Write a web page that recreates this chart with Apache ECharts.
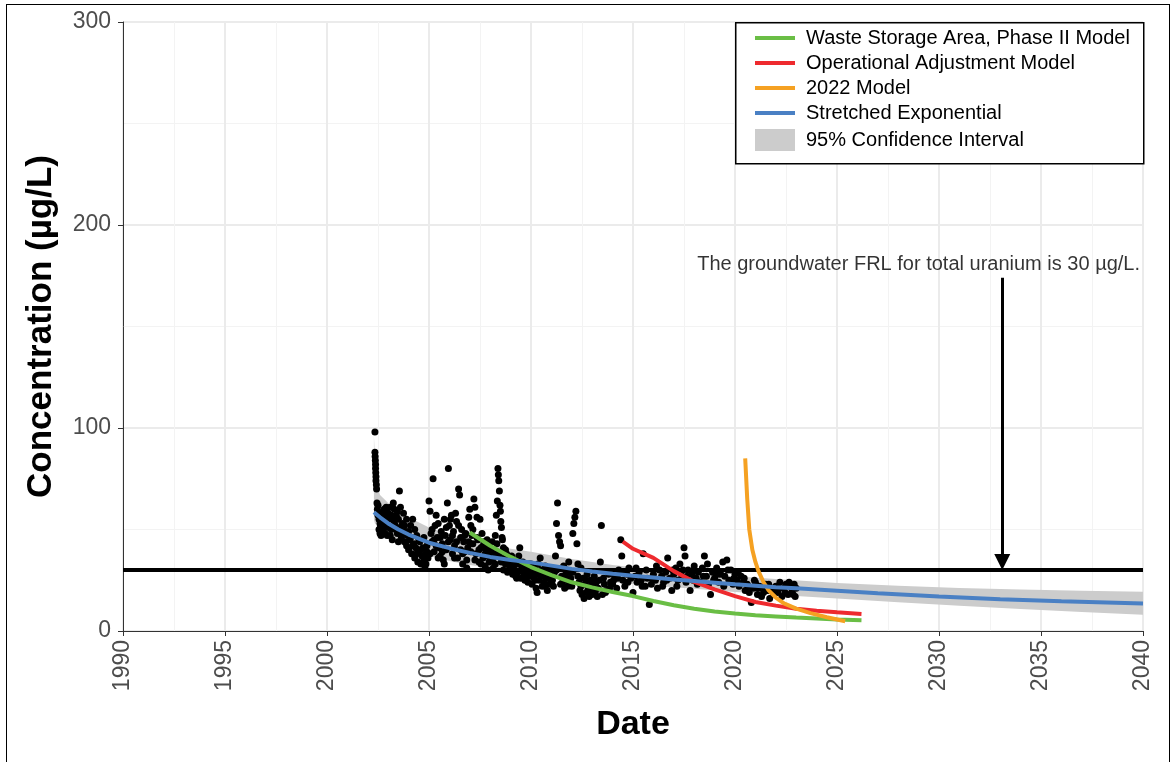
<!DOCTYPE html>
<html>
<head>
<meta charset="utf-8">
<script src="https://cdn.jsdelivr.net/npm/echarts@6/dist/echarts.min.js"></script>
<style>
  html, body { margin: 0; padding: 0; background: #fff; }
  #chart { width: 1172px; height: 762px; }
  #frame { position: absolute; left: 6px; top: 4px; width: 1162px; height: 800px; border: 1.5px solid #000; pointer-events: none; }
</style>
</head>
<body>
<div id="chart"></div>
<div id="frame"></div>
<script>
// measured samples [decimal year, µg/L]
const samples = [
  [2002.35,98],[2002.35,88],[2002.36,86],[2002.37,84],[2002.38,82],[2002.38,80],[2002.39,78],[2002.4,76],[2002.4,74],[2002.42,72],[2002.43,70],
  [2002.45,63],[2002.47,60],[2002.5,62],[2002.5,57],[2002.55,55],[2002.55,50],[2002.6,48],[2002.62,52],[2002.65,47],[2002.7,58],[2002.72,54],
  [2002.75,49],[2002.8,60],[2002.85,56],[2002.9,52],[2002.95,47],
  [2003.0,58],[2003.05,55],[2003.1,61],[2003.15,50],[2003.2,56],[2003.25,63],[2003.3,60],[2003.35,52],[2003.4,57],[2003.45,48],[2003.5,55],
  [2003.55,69],[2003.6,51],[2003.65,46],[2003.7,53],[2003.75,58],[2003.8,44],[2003.85,49],[2003.9,42],[2003.95,47],
  [2004.0,40],[2004.05,45],[2004.1,52],[2004.15,38],[2004.2,55],[2004.25,43],[2004.3,36],[2004.35,41],[2004.4,47],[2004.45,34],[2004.5,39],
  [2004.55,44],[2004.6,33],[2004.65,37],[2004.7,41],[2004.75,35],[2004.8,31],[2004.85,38],[2004.9,42],[2004.95,36],
  [2005.0,64],[2005.05,59],[2005.1,48],[2005.15,44],[2005.2,75],[2005.25,39],[2005.3,52],[2005.35,57],[2005.4,46],[2005.45,53],[2005.5,41],
  [2005.55,37],[2005.6,49],[2005.65,43],[2005.7,35],[2005.75,55],[2005.8,47],[2005.85,40],[2005.9,63],[2005.95,80],
  [2006.0,52],[2006.05,45],[2006.1,57],[2006.15,38],[2006.2,49],[2006.25,42],[2006.3,58],[2006.35,54],[2006.4,36],[2006.45,70],[2006.5,67],
  [2006.55,46],[2006.6,50],[2006.65,33],[2006.7,44],[2006.75,39],[2006.8,48],[2006.85,35],[2006.9,41],[2006.95,56],
  [2007.0,60],[2007.05,52],[2007.1,47],[2007.15,43],[2007.2,65],[2007.25,61],[2007.3,38],[2007.35,56],[2007.4,45],[2007.45,34],[2007.5,55],
  [2007.55,41],[2007.6,48],[2007.65,36],[2007.7,44],[2007.75,32],[2007.8,40],[2007.85,37],[2007.9,30],[2007.95,42],
  [2008.0,39],[2008.05,35],[2008.1,44],[2008.15,31],[2008.2,38],[2008.25,47],[2008.3,57],[2008.35,64],[2008.38,80],[2008.4,77],[2008.42,74],
  [2008.45,69],[2008.48,62],[2008.5,59],[2008.52,54],[2008.55,51],[2008.58,46],[2008.6,45],[2008.65,41],[2008.7,36],[2008.75,33],[2008.8,38],
  [2008.85,29],[2008.9,34],[2008.95,31],
  [2009.0,36],[2009.05,32],[2009.1,28],[2009.15,35],[2009.2,30],[2009.25,27],[2009.3,33],[2009.35,29],[2009.4,37],[2009.45,41],[2009.5,26],
  [2009.55,31],[2009.6,34],[2009.65,28],[2009.7,25],[2009.75,32],[2009.8,29],[2009.85,24],[2009.9,30],[2009.95,27],
  [2010.0,33],[2010.05,23],[2010.1,29],[2010.15,26],[2010.2,31],[2010.25,21],[2010.3,19],[2010.35,28],[2010.4,25],[2010.45,36],[2010.5,30],
  [2010.55,22],[2010.6,27],[2010.65,24],[2010.7,32],[2010.75,29],[2010.8,20],[2010.85,26],[2010.9,23],[2010.95,28],
  [2011.0,31],[2011.05,25],[2011.1,22],[2011.15,29],[2011.2,37],[2011.25,53],[2011.3,63],[2011.35,47],[2011.4,44],[2011.45,42],[2011.5,27],
  [2011.55,24],[2011.6,32],[2011.65,21],[2011.7,28],[2011.75,30],[2011.8,25],[2011.85,34],[2011.9,29],[2011.95,26],
  [2012.0,22],[2012.05,48],[2012.1,53],[2012.15,56],[2012.2,59],[2012.25,43],[2012.3,27],[2012.35,24],[2012.4,20],[2012.45,31],[2012.5,18],
  [2012.55,26],[2012.6,16],[2012.65,23],[2012.7,19],[2012.75,28],[2012.8,21],[2012.85,17],[2012.9,25],[2012.95,20],
  [2013.0,18],[2013.05,22],[2013.1,27],[2013.15,19],[2013.2,24],[2013.3,21],[2013.4,34],[2013.45,52],[2013.5,18],[2013.55,26],[2013.6,23],
  [2013.7,20],[2013.8,28],[2013.9,24],
  [2014.0,23],[2014.1,27],[2014.2,21],[2014.3,30],[2014.4,45],[2014.45,37],[2014.5,25],[2014.6,22],[2014.7,28],[2014.8,31],[2014.9,26],
  [2015.0,19],[2015.1,27],[2015.2,24],[2015.3,29],[2015.4,25],[2015.5,38],[2015.6,22],[2015.7,26],[2015.8,13],[2015.9,23],
  [2016.0,28],[2016.1,25],[2016.2,21],[2016.3,30],[2016.4,27],[2016.5,24],[2016.6,29],[2016.7,36],[2016.8,26],[2016.9,20],
  [2017.0,28],[2017.1,31],[2017.2,25],[2017.3,33],[2017.4,27],[2017.5,41],[2017.55,37],[2017.6,24],[2017.7,30],[2017.8,20],[2017.9,28],
  [2018.0,32],[2018.1,26],[2018.2,29],[2018.3,24],[2018.4,31],[2018.5,37],[2018.6,27],[2018.7,23],[2018.8,18],[2018.9,29],
  [2019.0,26],[2019.1,31],[2019.2,24],[2019.3,28],[2019.4,34],[2019.5,27],[2019.6,35],[2019.7,25],[2019.8,30],[2019.9,23],
  [2020.0,28],[2020.1,25],[2020.2,22],[2020.3,27],[2020.4,24],[2020.5,20],[2020.6,23],[2020.7,19],[2020.8,14],[2020.9,21],
  [2021.0,24],[2021.1,18],[2021.2,22],[2021.3,17],[2021.4,19],[2021.5,23],[2021.6,20],[2021.7,16],[2021.8,21],[2021.9,18],
  [2022.0,22],[2022.1,19],[2022.2,24],[2022.3,17],[2022.4,21],[2022.5,23],[2022.6,18],[2022.7,22],[2022.8,20],[2022.9,23],[2022.95,17],[2023.0,21],
  [2002.55,58],[2002.6,53],[2002.7,50],[2002.75,56],[2002.85,48],[2002.9,61],[2003.0,51],[2003.1,47],[2003.15,57],[2003.2,45],[2003.3,54],
  [2003.4,50],[2003.45,59],[2003.5,44],[2003.6,61],[2003.7,48],[2003.8,52],[2003.9,55],
  [2004.0,49],[2004.1,46],[2004.2,42],[2004.3,50],[2004.4,38],[2004.5,45],[2004.6,40],[2004.7,37],[2004.75,46],[2004.85,33],[2004.9,39],
  [2005.05,38],[2005.15,50],[2005.25,45],[2005.35,42],[2005.45,36],[2005.55,46],[2005.65,39],[2005.75,33],[2005.85,51],[2005.95,44],
  [2006.05,55],[2006.15,47],[2006.25,36],[2006.35,44],[2006.45,52],[2006.55,40],[2006.65,38],[2006.75,47],[2006.85,31],[2006.95,44],
  [2007.05,39],[2007.15,50],[2007.25,35],[2007.35,46],[2007.45,40],[2007.55,33],[2007.65,42],[2007.75,38],[2007.85,45],[2007.95,34],
  [2008.05,40],[2008.15,36],[2008.25,33],[2008.33,43],[2008.45,38],[2008.55,34],[2008.65,30],[2008.75,40],[2008.9,36],
  [2009.05,37],[2009.15,29],[2009.3,26],[2009.45,33],[2009.6,30],[2009.75,27],[2009.9,33],[2010.05,30],[2010.2,25],[2010.35,33],
  [2010.55,28],[2010.7,22],[2010.9,31],[2011.05,27],[2011.25,30],[2011.45,23],[2011.6,27],[2011.8,22],
  [2012.05,29],[2012.3,33],[2012.45,22],[2012.7,25],[2012.9,22],[2013.05,25],[2013.25,17],[2013.35,25],[2013.65,19],[2013.85,21],
  [2014.05,25],[2014.25,26],[2014.55,29],[2014.75,24],
  [2015.15,31],[2015.45,22],[2015.65,30],[2015.95,26],[2016.15,32],[2016.45,22],[2016.65,25],[2016.95,30],[2017.15,22],[2017.45,30],
  [2017.65,27],[2017.95,25],[2018.15,23],[2018.45,27],[2018.65,33],[2018.95,25],
  [2019.15,28],[2019.45,22],[2019.65,30],[2019.95,26],[2020.15,29],[2020.45,26],[2020.65,22],[2020.95,25],[2021.15,21],[2021.45,21],
  [2021.65,23],[2021.95,20],[2022.15,21],[2022.45,19],[2022.65,24],[2022.85,18]
];

// Waste Storage Area, Phase II Model
const wsaYears = [2007, 2008, 2009, 2010, 2011, 2012, 2013, 2014, 2015, 2016, 2017, 2018, 2019, 2020, 2021, 2022, 2023, 2024, 2025, 2026.2];
const wsaConc  = [48.5, 42, 36.5, 31.5, 27.5, 24, 21.5, 19.2, 17.2, 14.8, 12.7, 11, 9.6, 8.6, 7.8, 7.2, 6.6, 6.1, 5.7, 5.3];

// Operational Adjustment Model
const oamYears = [2014.5, 2015, 2016, 2017, 2018, 2019, 2020, 2021, 2022, 2023, 2024, 2025, 2026.2];
const oamConc  = [44, 40.5, 36, 29.5, 24.2, 20.5, 17.2, 14.3, 12.5, 11, 10, 9.2, 8.4];

// 2022 Model
const m22Years = [2020.5, 2020.6, 2020.7, 2020.85, 2021, 2021.15, 2021.4, 2021.65, 2022, 2022.4, 2023, 2023.7, 2024.5, 2025.4];
const m22Conc  = [85, 65, 50, 40, 34, 29.5, 24, 20, 16.5, 13.6, 11, 8.8, 6.8, 4.8];

// Stretched Exponential fit
const seYears = [2002.3, 2002.6, 2003, 2003.5, 2004, 2005, 2006, 2007, 2008, 2009, 2010, 2011, 2012, 2013, 2014, 2015, 2016, 2017, 2018, 2019, 2020, 2021, 2022, 2023, 2025, 2027, 2030, 2033, 2036, 2040];
const seConc  = [58.5, 56, 53, 50, 47.5, 43.5, 40.8, 38.5, 36.5, 35, 33.8, 32.2, 30.6, 29.3, 28.2, 27.2, 26.3, 25.4, 24.6, 23.8, 23, 22.3, 21.6, 21, 19.8, 18.6, 17, 15.6, 14.6, 13.6];

// 95% confidence interval
const ciYears = [2002.3, 2002.35, 2002.45, 2002.6, 2003, 2003.5, 2004, 2005, 2006, 2007, 2008, 2009, 2010, 2012, 2014, 2016, 2018, 2020, 2022, 2025, 2028, 2031, 2034, 2037, 2040];
const ciHigh  = [96, 85, 72, 67, 63, 59.5, 56, 51, 47.5, 45, 42.5, 40.5, 39, 35.5, 32.5, 30.3, 28.6, 27, 25.6, 23.7, 22.3, 21.2, 20.4, 19.8, 19.3];
const ciLow   = [55, 53, 52, 50.5, 46.5, 43.5, 40.5, 37, 34.5, 32.5, 31, 29.5, 28.3, 26, 24, 22.3, 20.8, 19.2, 17.8, 16, 14.2, 12.5, 10.8, 9.3, 8];

// FRL
const frlYears = [1990, 2040];
const frlConc  = [30, 30];
const arrowX = 2033.1;
const arrowTop = 174;
const noteX = 2029.0;
const noteY = 180.5;
const noteText = 'The groundwater FRL for total uranium is 30 µg/L.';

const zip = (xs, ys) => xs.map((x, i) => [x, ys[i]]);

const font = 'Liberation Sans';
const chart = echarts.init(document.getElementById('chart'));

const option = {
  backgroundColor: '#fff',
  animation: false,
  textStyle: { fontFamily: font },
  grid: { left: 123, right: 29, top: 22, bottom: 131, show: true, borderColor: '#333', borderWidth: 1 },
  xAxis: {
    type: 'value', min: 1990, max: 2040, interval: 5,
    name: 'Date', nameLocation: 'middle', nameGap: 77,
    nameTextStyle: { fontSize: 34, fontWeight: 'bold', color: '#000', fontFamily: font },
    axisLine: { lineStyle: { color: '#333', width: 1 } },
    axisTick: { length: 5, lineStyle: { color: '#333' } },
    axisLabel: { rotate: 90, margin: 9, fontSize: 23, color: '#4d4d4d', fontFamily: font, showMinLabel: true, showMaxLabel: true,
      formatter: v => String(v) },
    splitLine: { lineStyle: { color: '#ebebeb', width: 2 } },
    minorTick: { show: false, splitNumber: 2 },
    minorSplitLine: { show: true, lineStyle: { color: '#f3f3f3', width: 1 } }
  },
  yAxis: {
    type: 'value', min: 0, max: 300, interval: 100,
    name: 'Concentration (µg/L)', nameLocation: 'middle', nameGap: 64, nameRotate: 90,
    nameTextStyle: { fontSize: 35, fontWeight: 'bold', color: '#000', fontFamily: font },
    axisLine: { show: true, lineStyle: { color: '#333', width: 1 } },
    axisTick: { show: true, length: 5, lineStyle: { color: '#333' } },
    axisLabel: { margin: 12, fontSize: 23, color: '#4d4d4d', fontFamily: font },
    splitLine: { lineStyle: { color: '#ebebeb', width: 2 } },
    minorTick: { show: false, splitNumber: 2 },
    minorSplitLine: { show: true, lineStyle: { color: '#f3f3f3', width: 1 } }
  },
  legend: [
    {
      data: ['Waste Storage Area, Phase II Model', 'Operational Adjustment Model', '2022 Model', 'Stretched Exponential'],
      orient: 'vertical', left: 750, top: 23, icon: 'rect', itemWidth: 40, itemHeight: 4, itemGap: 5,
      textStyle: { fontSize: 20, color: '#000', fontFamily: font, padding: [0, 0, 0, 6] },
      selectedMode: false, z: 20
    },
    {
      data: ['95% Confidence Interval'],
      orient: 'vertical', left: 750, top: 124, icon: 'rect', itemWidth: 40, itemHeight: 22,
      textStyle: { fontSize: 20, color: '#000', fontFamily: font, padding: [0, 0, 0, 6] },
      selectedMode: false, z: 20
    }
  ],
  graphic: [{
    type: 'rect', left: 735, top: 22, z: 10,
    shape: { width: 408, height: 141 },
    style: { fill: '#fff', stroke: '#000', lineWidth: 1.5 }
  }],
  series: [
    {
      name: '95% Confidence Interval', type: 'custom', z: 1, silent: true,
      itemStyle: { color: '#cccccc' },
      data: ciYears.map((x, i) => [x, ciLow[i], ciHigh[i]]),
      encode: { x: 0, y: [1, 2] },
      renderItem: function (params, api) {
        if (params.dataIndex !== 0) return null;
        const pts = [];
        for (let i = 0; i < ciYears.length; i++) pts.push(api.coord([ciYears[i], ciHigh[i]]));
        for (let i = ciYears.length - 1; i >= 0; i--) pts.push(api.coord([ciYears[i], ciLow[i]]));
        return { type: 'polygon', shape: { points: pts }, style: { fill: '#cccccc' } };
      }
    },
    {
      name: 'Samples', type: 'scatter', z: 2, silent: true,
      symbolSize: 7, itemStyle: { color: '#000', opacity: 1 },
      data: samples
    },
    {
      name: 'FRL', type: 'line', z: 3, silent: true, showSymbol: false,
      lineStyle: { color: '#000', width: 4 },
      data: zip(frlYears, frlConc),
      markLine: {
        silent: true, symbol: ['none', 'triangle'], symbolSize: 16,
        label: { show: false },
        lineStyle: { color: '#000', width: 3, type: 'solid' },
        data: [[{ coord: [arrowX, arrowTop] }, { coord: [arrowX, frlConc[0] + 4] }]]
      }
    },
    {
      name: 'Note', type: 'scatter', z: 3, silent: true, symbolSize: 0,
      data: [[noteX, noteY]],
      label: { show: true, position: 'inside', formatter: noteText, fontSize: 20, color: '#000', fontFamily: font }
    },
    {
      name: 'Waste Storage Area, Phase II Model', type: 'line', z: 4, showSymbol: false, silent: true,
      itemStyle: { color: '#6abe45' }, lineStyle: { color: '#6abe45', width: 4 },
      data: zip(wsaYears, wsaConc)
    },
    {
      name: 'Operational Adjustment Model', type: 'line', z: 4, showSymbol: false, silent: true,
      itemStyle: { color: '#ee2a2e' }, lineStyle: { color: '#ee2a2e', width: 4 },
      data: zip(oamYears, oamConc)
    },
    {
      name: '2022 Model', type: 'line', z: 4, showSymbol: false, silent: true,
      itemStyle: { color: '#f5a122' }, lineStyle: { color: '#f5a122', width: 4 },
      data: zip(m22Years, m22Conc)
    },
    {
      name: 'Stretched Exponential', type: 'line', z: 4, showSymbol: false, silent: true,
      itemStyle: { color: '#4a80c4' }, lineStyle: { color: '#4a80c4', width: 4 },
      data: zip(seYears, seConc)
    }
  ]
};

chart.setOption(option);
</script>
</body>
</html>
